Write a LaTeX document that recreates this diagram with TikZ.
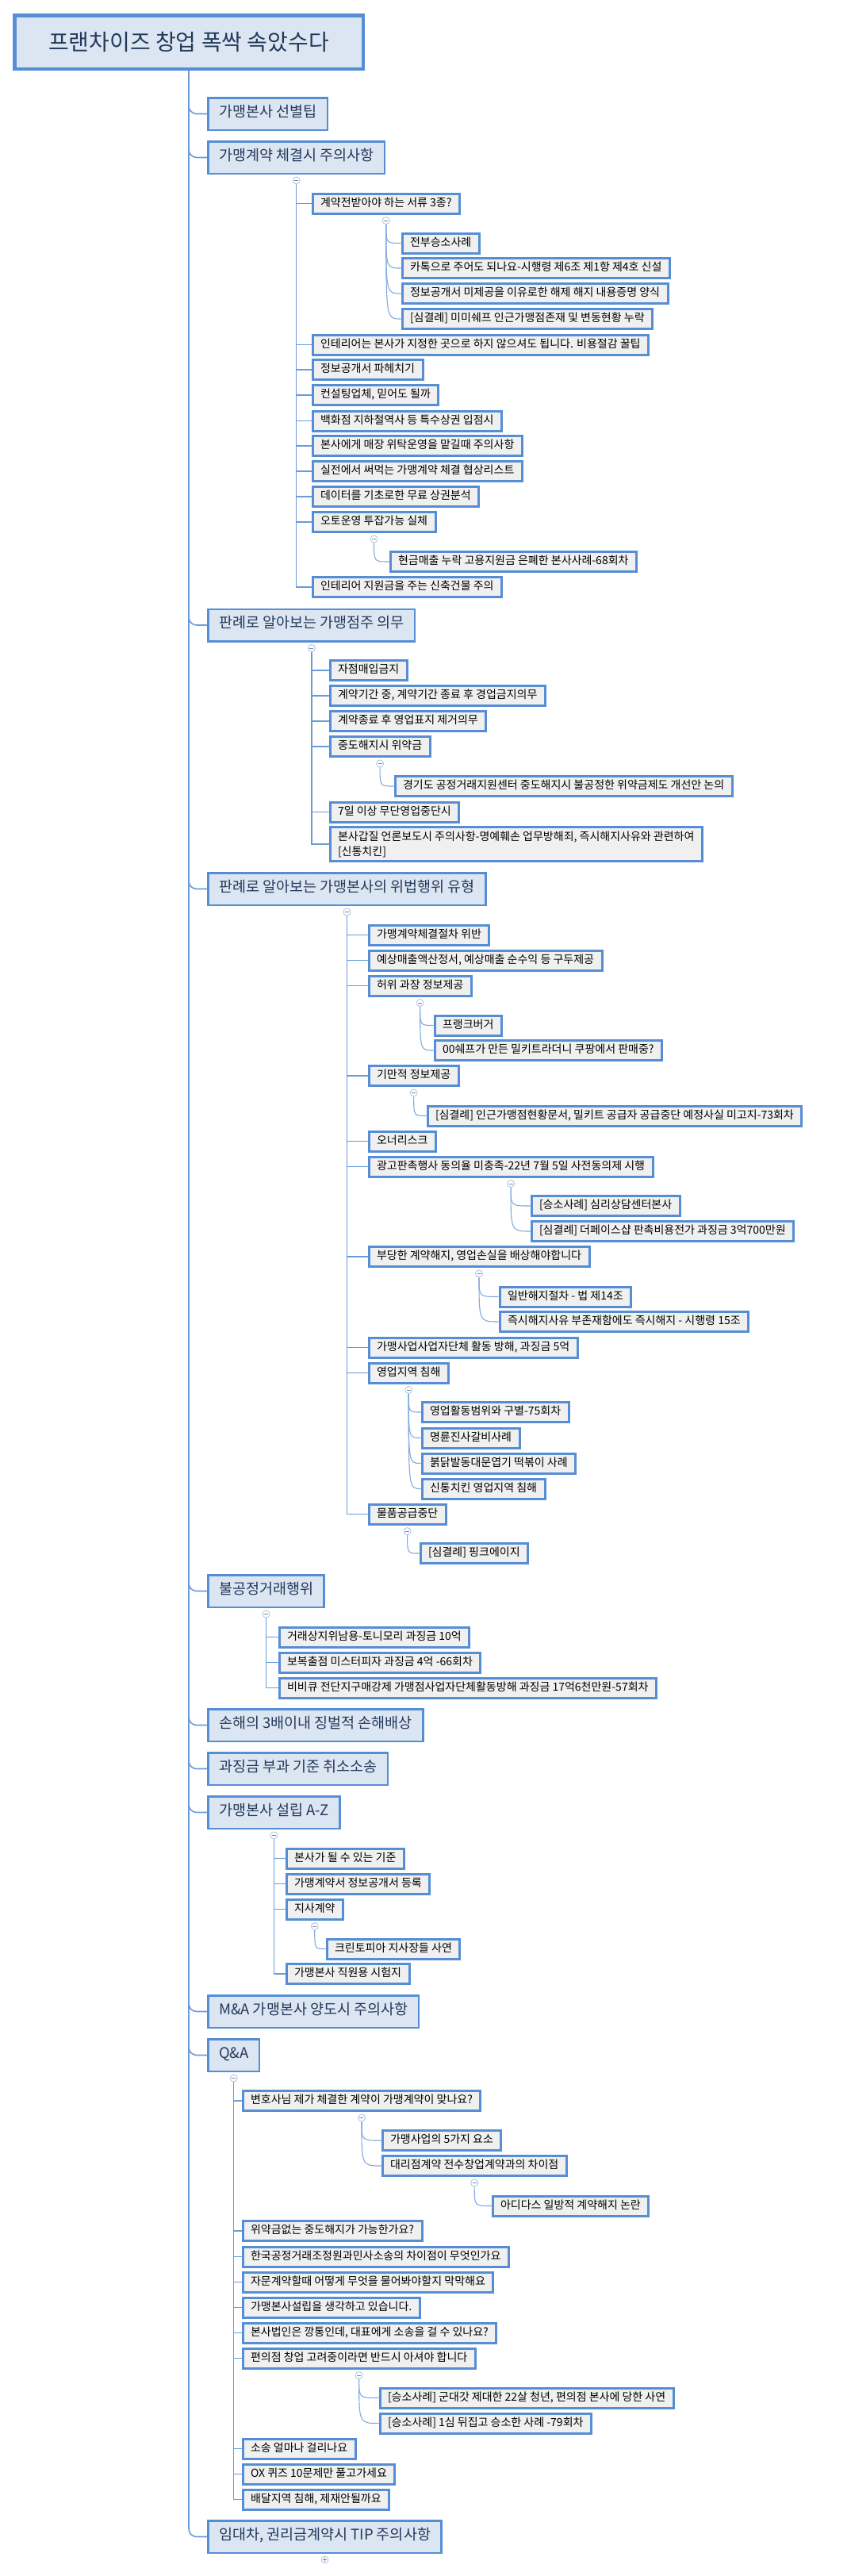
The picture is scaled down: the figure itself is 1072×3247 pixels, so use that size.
\documentclass[tikz,border=0pt]{standalone}
\usepackage{fontspec}
\setmainfont{Noto Sans CJK KR}
\usetikzlibrary{backgrounds}
\definecolor{bord}{HTML}{558ED5}
\definecolor{lonefill}{HTML}{DCE6F2}
\definecolor{ltwofill}{HTML}{F0F0F0}
\definecolor{lonetxt}{HTML}{23395B}
\definecolor{lnc}{HTML}{6A9BDA}
\definecolor{togc}{HTML}{A9C1E6}
\newcommand\crvto[2]{\draw[crv] (#1.south) .. controls (#1.south |- #2.west) .. (#2.west);}
\newcommand\strto[2]{\draw[conn] (#1.south) |- (#2.west);}
\newcommand\mainto[1]{\draw[mainln] (root.south) |- (#1.west);}
\begin{document}
\begin{tikzpicture}[x=1pt,y=-1pt,
  rootbox/.style={draw=bord, fill=lonefill, line width=4.5pt, minimum width=439.5pt, minimum height=67.5pt, inner sep=0pt, font=\fontsize{28}{32}\selectfont, text=lonetxt},
  lone/.style={draw=bord, fill=lonefill, line width=2.5pt, anchor=west, xshift=1.25pt, minimum height=40.5pt, inner xsep=13.5pt, inner ysep=0pt, text height=0.8em, text depth=0.05em, font=\fontsize{18.5}{22}\selectfont, text=lonetxt},
  ltwo/.style={draw=bord, fill=ltwofill, line width=3pt, anchor=west, xshift=1.5pt, minimum height=25pt, inner xsep=10pt, inner ysep=0pt, text height=0.8em, text depth=0.05em, font=\fontsize{14}{17}\selectfont},
  ltwob/.style={draw=bord, fill=ltwofill, line width=3pt, anchor=west, xshift=1.5pt, inner xsep=10pt, inner ysep=5pt, align=left, font=\fontsize{14}{19}\selectfont},
  mainln/.style={draw=lnc, line width=1.6pt, rounded corners=10pt},
  conn/.style={draw=lnc, line width=1.3pt},
  crv/.style={draw=lnc!85, line width=1.1pt},
  tog/.style={circle, draw=togc, fill=white, line width=0.8pt, minimum size=9pt, inner sep=0pt,
    path picture={\draw[togc!70!black, line width=0.7pt] ([xshift=-2.5pt]path picture bounding box.center) -- ([xshift=2.5pt]path picture bounding box.center);}},
  togp/.style={circle, draw=togc, fill=white, line width=0.8pt, minimum size=9pt, inner sep=0pt,
    path picture={\draw[togc!70!black, line width=0.7pt] ([xshift=-2.5pt]path picture bounding box.center) -- ([xshift=2.5pt]path picture bounding box.center) ([yshift=-2.5pt]path picture bounding box.center) -- ([yshift=2.5pt]path picture bounding box.center);}}
]
\useasboundingbox (0,0) rectangle (1072,3247);
% root
\node[rootbox] (root) at (238,53) {프랜차이즈 창업 폭싹 속았수다};
% level 1
\node[lone] (c1) at (260,143.5) {가맹본사 선별팁};
\node[lone] (c2) at (260,198.5) {가맹계약 체결시 주의사항};
\node[lone] (c3) at (260,788) {판례로 알아보는 가맹점주 의무};
\node[lone] (c4) at (260,1120.5) {판례로 알아보는 가맹본사의 위법행위 유형};
\node[lone] (c5) at (260,2005.5) {불공정거래행위};
\node[lone] (c6) at (260,2174.5) {손해의 3배이내 징벌적 손해배상};
\node[lone] (c7) at (260,2229.5) {과징금 부과 기준 취소소송};
\node[lone] (c8) at (260,2284.5) {가맹본사 설립 A-Z};
\node[lone] (c9) at (260,2535.5) {M\&A 가맹본사 양도시 주의사항};
\node[lone] (c10) at (260,2590.5) {Q\&A};
\node[lone] (c11) at (260,3197.5) {임대차, 권리금계약시 TIP 주의사항};
% c2 children
\node[ltwo] (a1) at (391,256.5) {계약전받아야 하는 서류 3종?};
\node[ltwo] (a1a) at (504,306.5) {전부승소사례};
\node[ltwo] (a1b) at (504,338) {카톡으로 주어도 되나요-시행령 제6조 제1항 제4호 신설};
\node[ltwo] (a1c) at (504,370) {정보공개서 미제공을 이유로한 해제 해지 내용증명 양식};
\node[ltwo] (a1d) at (504,402) {[심결례] 미미쉐프 인근가맹점존재 및 변동현황 누락};
\node[ltwo] (a2) at (391,434.5) {인테리어는 본사가 지정한 곳으로 하지 않으셔도 됩니다. 비용절감 꿀팁};
\node[ltwo] (a3) at (391,466) {정보공개서 파헤치기};
\node[ltwo] (a4) at (391,498) {컨설팅업체, 믿어도 될까};
\node[ltwo] (a5) at (391,530.5) {백화점 지하철역사 등 특수상권 입점시};
\node[ltwo] (a6) at (391,562) {본사에게 매장 위탁운영을 맡길때 주의사항};
\node[ltwo] (a7) at (391,594) {실전에서 써먹는 가맹계약 체결 협상리스트};
\node[ltwo] (a8) at (391,626) {데이터를 기초로한 무료 상권분석};
\node[ltwo] (a9) at (391,658) {오토운영 투잡가능 실체};
\node[ltwo] (a9a) at (489,708) {현금매출 누락 고용지원금 은폐한 본사사례-68회차};
\node[ltwo] (a10) at (391,740) {인테리어 지원금을 주는 신축건물 주의};
% c3 children
\node[ltwo] (b1) at (413,845) {자점매입금지};
\node[ltwo] (b2) at (413,877) {계약기간 중, 계약기간 종료 후 경업금지의무};
\node[ltwo] (b3) at (413,909) {계약종료 후 영업표지 제거의무};
\node[ltwo] (b4) at (413,941) {중도해지시 위약금};
\node[ltwo] (b4a) at (495,991) {경기도 공정거래지원센터 중도해지시 불공정한 위약금제도 개선안 논의};
\node[ltwo] (b5) at (413,1023.5) {7일 이상 무단영업중단시};
\node[ltwob] (b6) at (413,1064) {본사갑질 언론보도시 주의사항-명예훼손 업무방해죄, 즉시해지사유와 관련하여\\{[}신통치킨]};
% c4 children
\node[ltwo] (d1) at (462,1178.5) {가맹계약체결절차 위반};
\node[ltwo] (d2) at (462,1210.5) {예상매출액산정서, 예상매출 순수익 등 구두제공};
\node[ltwo] (d3) at (462,1242.5) {허위 과장 정보제공};
\node[ltwo] (d3a) at (545,1292.5) {프랭크버거};
\node[ltwo] (d3b) at (545,1324) {00쉐프가 만든 밀키트라더니 쿠팡에서 판매중?};
\node[ltwo] (d4) at (462,1356) {기만적 정보제공};
\node[ltwo] (d4a) at (536,1406.5) {[심결례] 인근가맹점현황문서, 밀키트 공급자 공급중단 예정사실 미고지-73회차};
\node[ltwo] (d5) at (462,1438.5) {오너리스크};
\node[ltwo] (d6) at (462,1470.5) {광고판촉행사 동의율 미충족-22년 7월 5일 사전동의제 시행};
\node[ltwo] (d6a) at (667,1520) {[승소사례] 심리상담센터본사};
\node[ltwo] (d6b) at (667,1552) {[심결례] 더페이스샵 판촉비용전가 과징금 3억700만원};
\node[ltwo] (d7) at (462,1584) {부당한 계약해지, 영업손실을 배상해야합니다};
\node[ltwo] (d7a) at (627,1634.5) {일반해지절차 - 법 제14조};
\node[ltwo] (d7b) at (627,1666) {즉시해지사유 부존재함에도 즉시해지 - 시행령 15조};
\node[ltwo] (d8) at (462,1698.5) {가맹사업사업자단체 활동 방해, 과징금 5억};
\node[ltwo] (d9) at (462,1730.5) {영업지역 침해};
\node[ltwo] (d9a) at (529,1780) {영업활동범위와 구별-75회차};
\node[ltwo] (d9b) at (529,1812.5) {명륜진사갈비사례};
\node[ltwo] (d9c) at (529,1844.5) {붉닭발동대문엽기 떡볶이 사례};
\node[ltwo] (d9d) at (529,1876.5) {신통치킨 영업지역 침해};
\node[ltwo] (d10) at (462,1908.5) {물품공급중단};
\node[ltwo] (d10a) at (527,1958) {[심결례] 핑크에이지};
% c5 children
\node[ltwo] (e1) at (349,2063.5) {거래상지위남용-토니모리 과징금 10억};
\node[ltwo] (e2) at (349,2095.5) {보복출점 미스터피자 과징금 4억 -66회차};
\node[ltwo] (e3) at (349,2127.5) {비비큐 전단지구매강제 가맹점사업자단체활동방해 과징금 17억6천만원-57회차};
% c8 children
\node[ltwo] (f1) at (358,2342.5) {본사가 될 수 있는 기준};
\node[ltwo] (f2) at (358,2374.5) {가맹계약서 정보공개서 등록};
\node[ltwo] (f3) at (358,2406.5) {지사계약};
\node[ltwo] (f3a) at (409,2456.5) {크린토피아 지사장들 사연};
\node[ltwo] (f4) at (358,2488) {가맹본사 직원용 시험지};
% c10 children
\node[ltwo] (q1) at (303,2648) {변호사님 제가 체결한 계약이 가맹계약이 맞나요?};
\node[ltwo] (q1a) at (479,2698) {가맹사업의 5가지 요소};
\node[ltwo] (q1b) at (479,2730) {대리점계약 전수창업계약과의 차이점};
\node[ltwo] (q1ba) at (618,2780.5) {아디다스 일방적 계약해지 논란};
\node[ltwo] (q2) at (303,2812) {위약금없는 중도해지가 가능한가요?};
\node[ltwo] (q3) at (303,2844.5) {한국공정거래조정원과민사소송의 차이점이 무엇인가요};
\node[ltwo] (q4) at (303,2876.5) {자문계약할때 어떻게 무엇을 물어봐야할지 막막해요};
\node[ltwo] (q5) at (303,2908.5) {가맹본사설립을 생각하고 있습니다.};
\node[ltwo] (q6) at (303,2940.5) {본사법인은 깡통인데, 대표에게 소송을 걸 수 있나요?};
\node[ltwo] (q7) at (303,2972.5) {편의점 창업 고려중이라면 반드시 아셔야 합니다};
\node[ltwo] (q7a) at (476,3022.5) {[승소사례] 군대갓 제대한 22살 청년, 편의점 본사에 당한 사연};
\node[ltwo] (q7b) at (476,3054.5) {[승소사례] 1심 뒤집고 승소한 사례 -79회차};
\node[ltwo] (q8) at (303,3086.5) {소송 얼마나 걸리나요};
\node[ltwo] (q9) at (303,3118.5) {OX 퀴즈 10문제만 풀고가세요};
\node[ltwo] (q10) at (303,3150.5) {배달지역 침해, 제재안될까요};
% toggles
\node[tog] (t2) at ([yshift=-7.5pt]c2.south) {};
\node[tog] (ta1) at ([yshift=-7.5pt]a1.south) {};
\node[tog] (ta9) at ([yshift=-7.5pt]a9.south) {};
\node[tog] (t3) at ([yshift=-7.5pt]c3.south) {};
\node[tog] (tb4) at ([yshift=-7.5pt]b4.south) {};
\node[tog] (t4) at ([yshift=-7.5pt]c4.south) {};
\node[tog] (td3) at ([yshift=-7.5pt]d3.south) {};
\node[tog] (td4) at ([yshift=-7.5pt]d4.south) {};
\node[tog] (td6) at ([yshift=-7.5pt]d6.south) {};
\node[tog] (td7) at ([yshift=-7.5pt]d7.south) {};
\node[tog] (td9) at ([yshift=-7.5pt]d9.south) {};
\node[tog] (td10) at ([yshift=-7.5pt]d10.south) {};
\node[tog] (t5) at ([yshift=-7.5pt]c5.south) {};
\node[tog] (t8) at ([yshift=-7.5pt]c8.south) {};
\node[tog] (tf3) at ([yshift=-7.5pt]f3.south) {};
\node[tog] (t10) at ([yshift=-7.5pt]c10.south) {};
\node[tog] (tq1) at ([yshift=-7.5pt]q1.south) {};
\node[tog] (tq1b) at ([yshift=-7.5pt]q1b.south) {};
\node[tog] (tq7) at ([yshift=-7.5pt]q7.south) {};
\node[togp] (t11) at ([yshift=-7.5pt]c11.south) {};
% connectors
\begin{pgfonlayer}{background}
\fill[white] (0,0) rectangle (1072,3247);
\foreach \c in {c1,c2,c3,c4,c5,c6,c7,c8,c9,c10,c11} {\mainto{\c}}
\foreach \c in {a1,a2,a3,a4,a5,a6,a7,a8,a9,a10} {\strto{t2}{\c}}
\foreach \c in {a1a,a1b,a1c,a1d} {\crvto{ta1}{\c}}
\crvto{ta9}{a9a}
\foreach \c in {b1,b2,b3,b4,b5,b6} {\strto{t3}{\c}}
\crvto{tb4}{b4a}
\foreach \c in {d1,d2,d3,d4,d5,d6,d7,d8,d9,d10} {\strto{t4}{\c}}
\crvto{td3}{d3a} \crvto{td3}{d3b}
\crvto{td4}{d4a}
\crvto{td6}{d6a} \crvto{td6}{d6b}
\crvto{td7}{d7a} \crvto{td7}{d7b}
\foreach \c in {d9a,d9b,d9c,d9d} {\crvto{td9}{\c}}
\crvto{td10}{d10a}
\foreach \c in {e1,e2,e3} {\strto{t5}{\c}}
\foreach \c in {f1,f2,f3,f4} {\strto{t8}{\c}}
\crvto{tf3}{f3a}
\foreach \c in {q1,q2,q3,q4,q5,q6,q7,q8,q9,q10} {\strto{t10}{\c}}
\crvto{tq1}{q1a} \crvto{tq1}{q1b}
\crvto{tq1b}{q1ba}
\crvto{tq7}{q7a} \crvto{tq7}{q7b}
\end{pgfonlayer}
\end{tikzpicture}
\end{document}
